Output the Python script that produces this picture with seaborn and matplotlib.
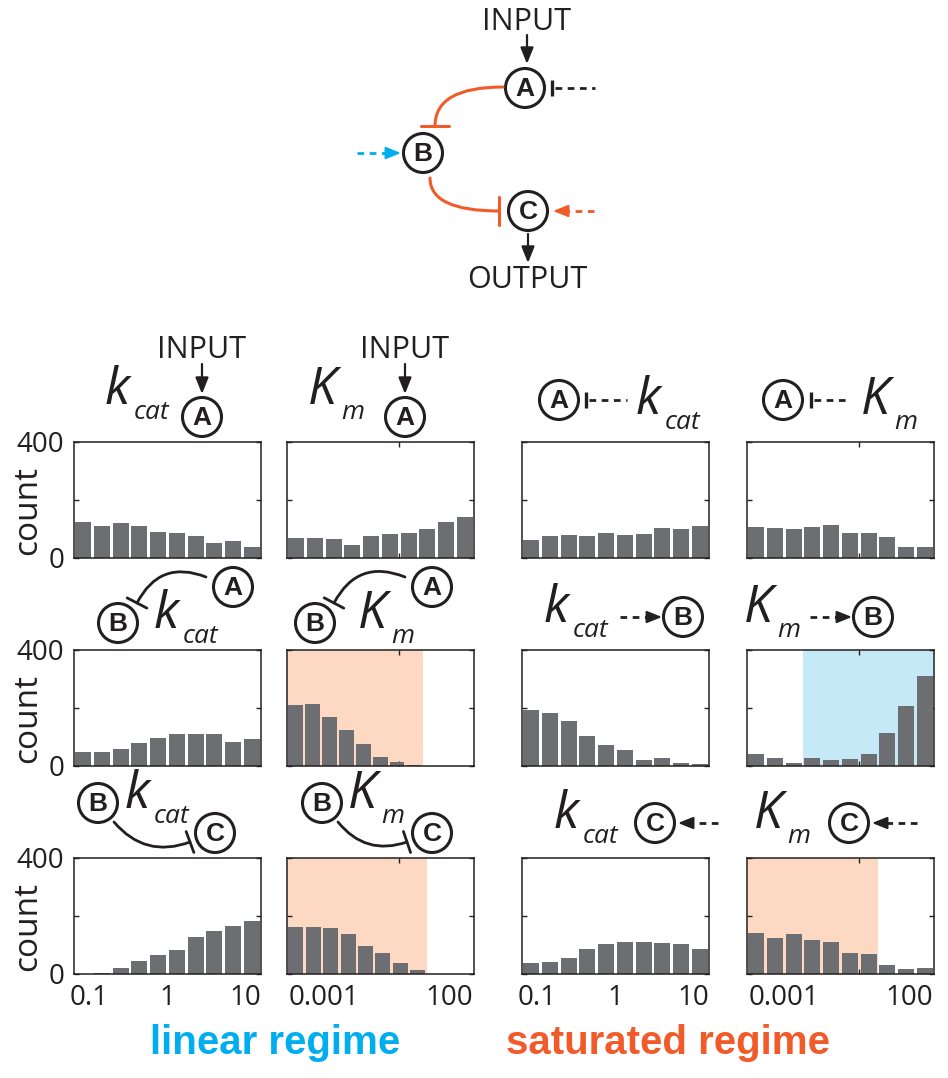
import numpy as np
import matplotlib
matplotlib.use("Agg")
import matplotlib.pyplot as plt
from matplotlib.patches import Circle, FancyArrowPatch
import seaborn as sns

# ---------------- data ----------------
# bin edges in log10 units
kcat_edges = [-1.2, -0.96, -0.72, -0.48, -0.24, 0.0, 0.24, 0.48, 0.72, 0.96, 1.2]
km_edges = [-4.5, -3.75, -3.0, -2.25, -1.5, -0.75, 0.0, 0.75, 1.5, 2.25, 3.0]
km_edges_r2 = [-4.5, -3.82, -3.14, -2.46, -1.78, -1.1, -0.42, 0.26, 0.94, 1.62, 2.3]
km_edges_r3 = [-4.5, -3.8, -3.1, -2.4, -1.7, -1.0, -0.3, 0.4, 1.1, 1.8, 2.5]

counts_r1c1 = [123, 111, 120, 109, 88, 85, 75, 52, 60, 37]
counts_r1c2 = [69, 70, 64, 46, 77, 82, 85, 99, 123, 140]
counts_r1c3 = [61, 77, 79, 77, 87, 79, 83, 102, 100, 109]
counts_r1c4 = [107, 105, 101, 107, 114, 86, 86, 72, 37, 38]
counts_r2c1 = [47, 49, 57, 81, 96, 112, 109, 111, 83, 92]
counts_r2c2 = [209, 213, 168, 124, 75, 30, 15, 5, 0, 0]
counts_r2c3 = [193, 184, 155, 103, 74, 56, 22, 29, 9, 6]
counts_r2c4 = [41, 26, 10, 26, 22, 25, 40, 115, 208, 311]
counts_r3c1 = [0, 3, 22, 44, 65, 83, 127, 150, 165, 184]
counts_r3c2 = [161, 163, 160, 138, 95, 73, 37, 14, 0, 0]
counts_r3c3 = [37, 43, 56, 87, 104, 112, 111, 107, 103, 85]
counts_r3c4 = [143, 125, 138, 116, 109, 72, 68, 32, 16, 19]

# shaded regime windows (log10 units): (row, col, start, end, regime)
regime_windows = [
    (1, 1, -4.5, 0.94, "saturated"),
    (2, 1, -4.5, 1.1, "saturated"),
    (1, 3, -2.25, 3.0, "linear"),
    (2, 3, -4.5, 0.75, "saturated"),
]

kcat_ticks = [-1, 0, 1]
kcat_ticklabels = ["0.1", "1", "10"]
km_ticks = [-3, 2]
km_ticklabels = ["0.001", "100"]
count_ticks = [0, 200, 400]
count_ticklabels = ["0", "", "400"]

panel_counts = [
    [counts_r1c1, counts_r1c2, counts_r1c3, counts_r1c4],
    [counts_r2c1, counts_r2c2, counts_r2c3, counts_r2c4],
    [counts_r3c1, counts_r3c2, counts_r3c3, counts_r3c4],
]
panel_edges = [
    [kcat_edges, km_edges, kcat_edges, km_edges],
    [kcat_edges, km_edges_r2, kcat_edges, km_edges],
    [kcat_edges, km_edges_r3, kcat_edges, km_edges],
]

# ---------------- style ----------------
sns.set_style("white")
plt.rcParams["font.family"] = ["Open Sans", "DejaVu Sans"]
plt.rcParams["axes.linewidth"] = 1.1

INK = "#231f20"
BAR = "#6d6e71"
ORANGE = "#f15a29"
BLUE = "#00aeef"
SHADE = {"saturated": "#fdd9c4", "linear": "#c6e9f8"}

W, H = 948, 1078
fig = plt.figure(figsize=(W / 100, H / 100), dpi=100)

col_left = [74, 287, 522, 747]
row_top = [442, 650, 858]
ax_w, ax_h = 187, 116

for r in range(3):
    for c in range(4):
        ax = fig.add_axes([col_left[c] / W, 1 - (row_top[r] + ax_h) / H, ax_w / W, ax_h / H])
        edges = panel_edges[r][c]
        counts = panel_counts[r][c]
        centers = [(a + b) / 2 for a, b in zip(edges[:-1], edges[1:])]
        for (rr, cc, x0, x1, reg) in regime_windows:
            if rr == r and cc == c:
                ax.axvspan(x0, x1, color=SHADE[reg], lw=0, zorder=0)
        sns.histplot(x=centers, weights=counts, bins=edges, ax=ax, color=BAR,
                     alpha=1, shrink=0.86, linewidth=0, zorder=2)
        ax.set_xlabel("")
        ax.set_ylabel("")
        is_kcat = c in (0, 2)
        if is_kcat:
            ax.set_xlim(-1.2, 1.2)
        else:
            ax.set_xlim(-4.5, 3.0)
        ax.set_ylim(0, 400)
        ax.set_yticks(count_ticks)
        ax.set_yticklabels(count_ticklabels if c == 0 else [])
        if is_kcat:
            ax.set_xticks(kcat_ticks)
            ax.set_xticklabels(kcat_ticklabels if r == 2 else [])
            ax.set_xticks([0], minor=True)
        else:
            ax.set_xticks(km_ticks)
            ax.set_xticklabels(km_ticklabels if r == 2 else [])
            ax.set_xticks([-3, 0], minor=True)
        ax.tick_params(axis="x", which="major", length=0, pad=7, labelsize=20, colors=INK)
        ax.tick_params(axis="x", which="minor", direction="in", length=3.5, width=1,
                       top=True, bottom=True, color=INK)
        ax.tick_params(axis="y", direction="in", length=3.5, width=1, left=True,
                       right=True, pad=7, labelsize=20, colors=INK)
        for s in ax.spines.values():
            s.set_color(INK)
            s.set_linewidth(1.1)
        ax.set_facecolor("white")
        if c == 0:
            ax.set_ylabel("count", fontsize=24, color=INK)
            ax.yaxis.set_label_coords(-0.16, 0.41)

# ---------------- diagrams (pixel overlay) ----------------
ov = fig.add_axes([0, 0, 1, 1], zorder=10)
ov.set_xlim(0, W)
ov.set_ylim(H, 0)
ov.axis("off")
ov.patch.set_alpha(0)

LETTER_FONT = ["Liberation Sans", "DejaVu Sans"]


def node(x, y, letter, r=19.5):
    ov.add_patch(Circle((x, y), r, fill=False, lw=2.2, ec=INK))
    ov.text(x, y + 1, letter, ha="center", va="center", fontsize=19,
            fontweight="bold", family=LETTER_FONT, color=INK)


def head(x0, y0, x1, y1, color, lw=1.6, scale=14):
    ov.annotate("", xy=(x1, y1), xytext=(x0, y0),
                arrowprops=dict(arrowstyle="-|>,head_length=0.7,head_width=0.28",
                                color=color, lw=lw, shrinkA=0, shrinkB=0,
                                mutation_scale=scale))


def dashed_arrow(x0, x1, y, color):
    d = np.sign(x1 - x0)
    ov.plot([x0, x1 - d * 9], [y, y], color=color, lw=2.0, ls=(0, (2.4, 2.0)),
            dash_capstyle="butt")
    head(x1 - d * 11, y, x1, y, color, lw=1.5, scale=13)


def dashed_block(x0, x1, y, color=INK):
    ov.plot([x0, x0], [y - 8, y + 8], color=color, lw=2.4, solid_capstyle="butt")
    ov.plot([x0 + 3, x1], [y, y], color=color, lw=2.0, ls=(0, (2.4, 2.0)),
            dash_capstyle="butt")


def inhib_arc(p0, p1, color, conn, lw=2.0, bar=0.9):
    ov.add_patch(FancyArrowPatch(p0, p1, connectionstyle=conn,
                                 arrowstyle=f"-[,widthB={bar},lengthB=0",
                                 color=color, lw=lw, mutation_scale=10,
                                 shrinkA=0, shrinkB=0))


def k_label(x, y, big, small):
    dx = 29 if big == "k" else 33
    ov.text(x, y, big, fontsize=37, style="italic", color=INK, ha="left", va="baseline")
    ov.text(x + dx, y + 15, small, fontsize=19, style="italic", color=INK,
            ha="left", va="baseline")


def text(x, y, s, size=22, color=INK, **kw):
    ov.text(x, y, s, fontsize=size, color=color, ha="center", va="center", **kw)


# network overview
text(527, 22, "INPUT")
head(527, 35, 527, 64, INK)
node(525, 88, "A")
dashed_block(552, 595, 88)
inhib_arc((503, 87), (435, 126), ORANGE, "angle3,angleA=0,angleB=90", lw=2.2, bar=1.0)
node(423, 153, "B")
dashed_arrow(357, 401, 153, BLUE)
inhib_arc((430, 178), (499, 211), ORANGE, "angle3,angleA=90,angleB=0", lw=2.2, bar=1.0)
node(528, 211, "C")
dashed_arrow(594, 553, 211, ORANGE)
head(528, 234, 528, 263, INK)
text(527, 280, "OUTPUT")

# row 1 labels
for cx, big, small in [(202, "k", "cat"), (405, "K", "m")]:
    text(cx, 350, "INPUT")
    head(cx, 364, cx, 394, INK)
    node(cx, 417, "A")
    k_label(cx - 97, 404, big, small)
node(559, 400, "A")
dashed_block(586, 627, 400)
k_label(636, 414, "k", "cat")
node(783, 400, "A")
dashed_block(811, 847, 400)
k_label(861, 414, "K", "m")

# row 2 labels
for ax_, bx in [(233, 118), (432, 315)]:
    node(ax_, 587, "A")
    node(bx, 623, "B")
    inhib_arc((ax_ - 27, 577), (bx + 19, 603), INK, "arc3,rad=0.45", lw=2.0, bar=0.8)
k_label(154, 628, "k", "cat")
k_label(358, 628, "K", "m")
k_label(544, 622, "k", "cat")
dashed_arrow(620, 662, 617, INK)
node(683, 617, "B")
k_label(744, 622, "K", "m")
dashed_arrow(810, 852, 617, INK)
node(873, 617, "B")

# row 3 labels
for bx, cx in [(98, 215), (322, 432)]:
    node(bx, 803, "B")
    node(cx, 833, "C")
    inhib_arc((bx + 16, 822), (cx - 25, 842), INK, "arc3,rad=0.35", lw=2.0, bar=0.8)
k_label(125, 808, "k", "cat")
k_label(348, 808, "K", "m")
k_label(554, 828, "k", "cat")
node(655, 823, "C")
dashed_arrow(718, 678, 823, INK)
k_label(754, 828, "K", "m")
node(849, 823, "C")
dashed_arrow(917, 872, 823, INK)

# regime captions
REG_FONT = ["Liberation Sans Narrow", "Liberation Sans", "DejaVu Sans"]
text(275, 1043, "linear regime", size=29, color=BLUE, fontweight="bold", family=REG_FONT)
text(668, 1043, "saturated regime", size=29, color=ORANGE, fontweight="bold", family=REG_FONT)

fig.savefig("out.png", dpi=100)
